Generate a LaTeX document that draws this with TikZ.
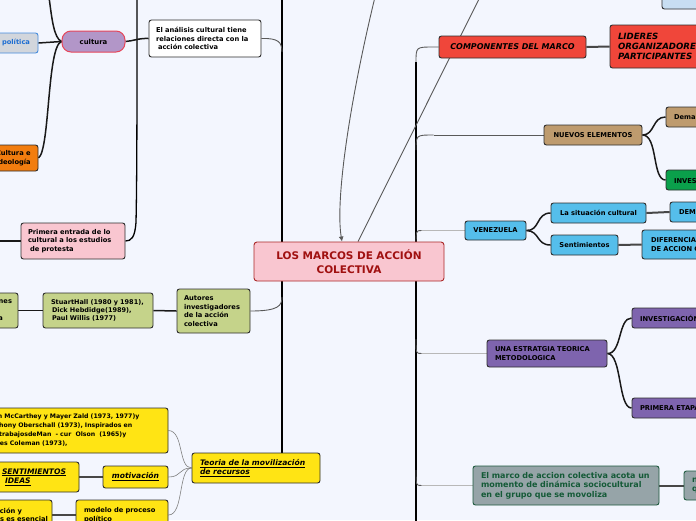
\documentclass[tikz,border=0pt]{standalone}
\usepackage{fontspec}
\setmainfont{DejaVu Sans}
\usetikzlibrary{arrows.meta}
\pgfdeclarelayer{back}
\pgfdeclarelayer{edges}
\pgfsetlayers{back,edges,main}
\definecolor{bgc}{RGB}{243,246,254}
\definecolor{pinkc}{RGB}{249,198,208}
\definecolor{cred}{RGB}{170,40,40}
\definecolor{ctext}{RGB}{160,16,16}
\definecolor{lav}{RGB}{178,150,200}
\definecolor{cultline}{RGB}{230,70,90}
\definecolor{polfill}{RGB}{210,214,220}
\definecolor{polline}{RGB}{70,140,220}
\definecolor{poltext}{RGB}{30,110,210}
\definecolor{orangec}{RGB}{242,125,15}
\definecolor{greenc}{RGB}{197,211,138}
\definecolor{yellowc}{RGB}{255,228,20}
\definecolor{redc}{RGB}{240,70,58}
\definecolor{ltblue}{RGB}{200,222,242}
\definecolor{tanc}{RGB}{190,155,110}
\definecolor{dgreen}{RGB}{10,160,75}
\definecolor{bluec}{RGB}{85,190,235}
\definecolor{purp}{RGB}{126,100,174}
\definecolor{grayc}{RGB}{150,164,168}
\definecolor{gline}{RGB}{30,90,62}
\definecolor{gtext}{RGB}{20,90,55}
\definecolor{boxline}{RGB}{45,45,45}
\newcommand\mybox[8]{%
  \pgfmathsetmacro\myW{#4-#2}%
  \pgfmathsetmacro\myH{#5-#3}%
  \pgfmathsetmacro\myX{(#2+#4)/2}%
  \pgfmathsetmacro\myY{(#3+#5)/2}%
  \pgfmathsetmacro\myT{#4-#2-2*#6}%
  \node[bx,minimum width=\myW pt,minimum height=\myH pt,text width=\myT pt,#7] (#1) at (\myX,\myY) {#8};}
\newcommand\tailgap[1]{\rule{#1}{0pt}}
\begin{document}
\begin{tikzpicture}[x=1pt,y=-1pt,
  bx/.style={draw=boxline, line width=0.9pt, rounded corners=2.5pt, inner sep=0pt, align=center,
    font=\fontsize{6.7}{8.4}\selectfont\bfseries, text=black},
  lft/.style={align=left},
  trunk/.style={line width=2.6pt, draw=black},
  midl/.style={line width=1.3pt, draw=black},
  link/.style={line width=1.5pt, draw=black!90},
  link2/.style={line width=2pt, draw=black!72},
  thinl/.style={line width=0.9pt, draw=black!65},
  light/.style={line width=1pt, draw=black!28},
  fan/.style={line width=0.6pt, draw=black!50}]
\useasboundingbox (0,0) rectangle (696,520);
\begin{pgfonlayer}{back}
\fill[bgc] (0,0) rectangle (696,520);
\end{pgfonlayer}
% ---------- nodes ----------
\mybox{central}{254}{242}{444}{281}{0}{fill=pinkc, draw=cred, text=ctext, font=\fontsize{10.5}{13.5}\selectfont\bfseries, rounded corners=3pt}{LOS MARCOS DE ACCIÓN\\COLECTIVA}
\mybox{pol}{-6}{33}{38}{53}{0}{fill=polfill, draw=polline, text=poltext}{política}
\mybox{cult}{62}{31}{125}{52}{0}{fill=lav, draw=cultline, rounded corners=9pt, line width=1pt, font=\fontsize{6.9}{8.4}\selectfont\bfseries}{cultura}
\mybox{anal}{149}{20}{261}{57}{7}{fill=white, lft}{El análisis cultural tiene\\relaciones directa con la\\\hspace*{2pt}acción colectiva}
\mybox{ideo}{-10}{145}{38}{171}{6}{fill=orangec, lft}{Cultura e\\ideología}
\mybox{prim}{21}{223}{125}{259}{7}{fill=pinkc, lft}{Primera entrada de lo\\cultural a los estudios\\\hspace*{2pt}de protesta}
\mybox{aut}{177}{289}{250}{333}{7}{fill=greenc, lft}{Autores\\investigadores\\de la acción\\colectiva}
\mybox{stu}{43}{293}{153}{328}{5}{fill=greenc, lft, font=\fontsize{6.5}{8.2}\selectfont\bfseries}{\hspace*{3pt}StuartHall (1980 y 1981),\\\hspace*{4pt}Dick Hebdidge(1989),\\\hspace*{4pt}Paul Willis (1977)}
\mybox{inv}{-80}{293}{18}{328}{6}{fill=greenc, align=right}{Las manifestaciones\\de la\tailgap{24pt}\\cultura popular y la\tailgap{9pt}}
\mybox{teo}{192}{453}{320}{483}{8}{fill=yellowc, lft, font=\fontsize{7.6}{9.4}\selectfont\bfseries\itshape}{\underline{Teoria de la movilización}\\\underline{de recursos}}
\mybox{mcc}{-21}{408}{168}{453}{8}{fill=yellowc, lft, font=\fontsize{6.2}{9}\selectfont\bfseries}{John McCarthey y Mayer Zald (1973, 1977)y\\Anthony Oberschall (1973), Inspirados en\\los trabajosdeMan\ \ - cur\ \ Olson\ \ (1965)y\\James Coleman (1973),}
\mybox{mot}{103}{466}{168}{488}{0}{fill=yellowc, font=\fontsize{7.6}{9}\selectfont\bfseries\itshape}{\underline{motivación}}
\mybox{sent}{-6}{462}{79}{492}{8}{fill=yellowc, lft, font=\fontsize{7.6}{9.4}\selectfont\bfseries\itshape}{\underline{SENTIMIENTOS}\\\hspace*{3pt}\underline{IDEAS}}
\mybox{mod}{76}{500}{168}{530}{8}{fill=yellowc, lft}{modelo de proceso\\político}
\mybox{org}{-70}{500}{52}{530}{4}{fill=yellowc, align=right}{La organización y\tailgap{26pt}\\los recursos es esencial}
\mybox{comp}{439}{36}{586}{58}{0}{fill=redc, font=\fontsize{8}{9.6}\selectfont\bfseries\itshape}{COMPONENTES DEL MARCO}
\mybox{lid}{610}{25}{730}{68}{8}{fill=redc, lft, font=\fontsize{8.6}{10.2}\selectfont\bfseries\itshape}{LIDERES\\ORGANIZADORES\\PARTICIPANTES}
\mybox{dema1}{662}{-14}{760}{9}{8}{fill=ltblue, lft}{DEMANDAS}
\mybox{nuev}{544}{125}{642}{145}{0}{fill=tanc}{NUEVOS ELEMENTOS}
\mybox{dema2}{666}{107}{760}{127}{8}{fill=tanc, lft}{Demandas}
\mybox{invs}{666}{170}{760}{190}{8}{fill=dgreen, lft}{INVESTIGACIÓN}
\mybox{ven}{465}{221}{526}{240}{0}{fill=bluec}{VENEZUELA}
\mybox{sit}{551}{203}{646}{223}{0}{fill=bluec}{La situación cultural}
\mybox{dem3}{670}{202}{760}{222}{9}{fill=bluec, lft}{DEMANDAS}
\mybox{sen}{551}{235}{618}{255}{0}{fill=bluec}{Sentimientos}
\mybox{dif}{642}{230}{760}{259}{9}{fill=bluec, lft}{DIFERENCIAS\\DE ACCION COLECTIVA}
\mybox{una}{487}{340}{607}{367}{8}{fill=purp, lft}{UNA ESTRATGIA TEORICA\\METODOLOGICA}
\mybox{invg}{632}{308}{760}{328}{8}{fill=purp, lft}{INVESTIGACIÓN}
\mybox{pri}{632}{398}{760}{418}{8}{fill=purp, lft}{PRIMERA ETAPA}
\mybox{marco}{473}{466}{659}{505}{8}{fill=grayc, draw=gline, text=gtext, lft, font=\fontsize{8}{9.4}\selectfont\bfseries}{El marco de accion colectiva acota un\\momento de dinámica sociocultural\\en el grupo que se movoliza}
\mybox{nq}{684}{471}{780}{500}{8}{fill=grayc, draw=gline, text=gtext, lft, font=\fontsize{8}{9.4}\selectfont\bfseries}{nuevas\\que}
% ---------- coordinates ----------
\coordinate (ltop) at (282,-3);
\coordinate (la) at (282,52);
\coordinate (lb) at (282,297);
\coordinate (mtop) at (137,-3);
\coordinate (mb) at (136,222);
\coordinate (ctop) at (49,-3);
\coordinate (primL) at (-3,241);
\coordinate (rtop) at (416,62);
\coordinate (rbot) at (416,525);
\coordinate (rn) at (416,150);
\coordinate (rv) at (416,246);
\coordinate (ru) at (416,339);
\coordinate (rm) at (416,470);
\coordinate (ec) at ([xshift=-5pt]comp.west);
\coordinate (en) at ([xshift=-110pt]nuev.west);
\coordinate (ev) at ([xshift=-31pt]ven.west);
\coordinate (eu) at ([xshift=-53pt]una.west);
\coordinate (em) at ([xshift=-39pt]marco.west);
\coordinate (atop) at (375,-3);
\coordinate (btop) at (480,-3);
% ---------- connectors ----------
\begin{pgfonlayer}{edges}
\draw[trunk] (ltop) -- (ltop |- teo.north);
\draw[thinl] (anal.east) .. controls (278,38) and (282,42) .. (la);
\draw[thinl] (aut.east) .. controls (278,311) and (282,306) .. (lb);
\draw[midl] (mtop) .. controls (137,100) and (137,180) .. (mb) .. controls (135,238) and (131,241) .. (prim.east);
\draw[link] (cult.east) .. controls (133,41) and (139,38) .. (anal.west);
\draw[link] (ctop) .. controls (52,20) and (54,38) .. (cult.west);
\draw[link] (pol.east) -- (cult.west);
\draw[link] (cult.west) .. controls (47,46) and (50,150) .. (ideo.east);
\draw[link] (prim.west) -- (primL);
\draw[link] (inv.east) -- (stu.west);
\draw[link] (stu.east) -- (aut.west);
\draw[fan] (teo.west) .. controls (178,468) and (184,431) .. (mcc.east);
\draw[fan] (teo.west) .. controls (178,468) and (182,477) .. (mot.east);
\draw[fan] (teo.west) .. controls (178,468) and (184,515) .. (mod.east);
\draw[link2] (mot.west) -- (sent.east);
\draw[link2] (mod.west) -- (org.east);
% right side
\draw[trunk] (rtop) -- (rbot);
\draw[thinl] (rtop) .. controls (rtop |- ec) .. (ec) -- (comp.west);
\draw[thinl] (rn) .. controls (rn |- en) .. (en);
\draw[thinl] (en) -- (nuev.west);
\draw[thinl] (rv) .. controls (rv |- ev) .. ([xshift=-12pt]ev);
\draw[light] ([xshift=-12pt]ev) -- (ven.west);
\draw[thinl] (ru) .. controls (ru |- eu) .. ([xshift=-12pt]eu);
\draw[light] ([xshift=-12pt]eu) -- (una.west);
\draw[thinl] (rm) .. controls (rm |- em) .. ([xshift=-12pt]em);
\draw[light] ([xshift=-12pt]em) -- (marco.west);
\draw[link2] (comp.east) -- (lid.west);
\draw[link] (nuev.east) .. controls (655,135) and (652,117) .. (dema2.west);
\draw[link] (nuev.east) .. controls (658,135) and (652,180) .. (invs.west);
\draw[link] (ven.east) .. controls (540,231) and (536,213) .. (sit.west);
\draw[link] (ven.east) .. controls (540,231) and (536,245) .. (sen.west);
\draw[link2] (sit.east) -- (dem3.west);
\draw[link2] (sen.east) -- (dif.west);
\draw[link] (una.east) .. controls (622,354) and (618,318) .. (invg.west);
\draw[link] (una.east) .. controls (622,354) and (618,408) .. (pri.west);
\draw[link2] (marco.east) -- (nq.west);
\draw[thinl, -{Latex[length=5pt,width=5pt]}] (atop) .. controls (350,100) and (335,200) .. ([xshift=-7pt]central.north);
\draw[thinl] ([xshift=9pt]central.north) -- (btop);
\end{pgfonlayer}
\end{tikzpicture}
\end{document}
